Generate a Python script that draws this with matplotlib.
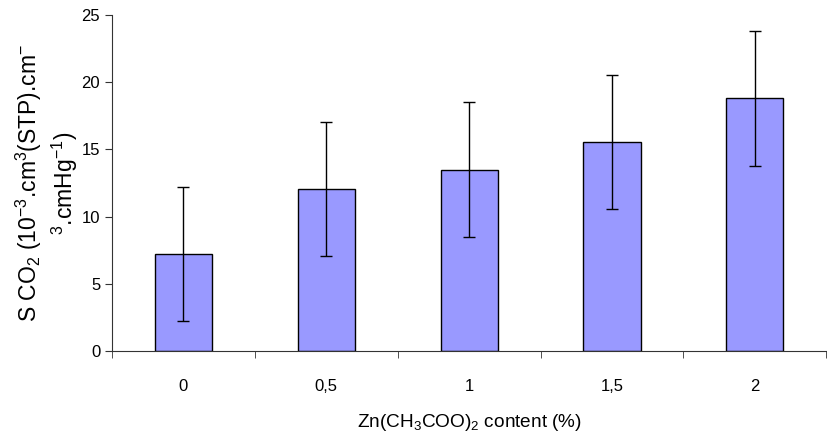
import matplotlib

matplotlib.use("Agg")
import matplotlib.pyplot as plt
from matplotlib.ticker import FixedLocator, NullFormatter

plt.rcParams["font.family"] = ["Liberation Sans", "DejaVu Sans"]
plt.rcParams["mathtext.fontset"] = "custom"
plt.rcParams["mathtext.rm"] = "Liberation Sans"
plt.rcParams["mathtext.it"] = "Liberation Sans:italic"
plt.rcParams["mathtext.bf"] = "Liberation Sans:bold"

categories = ["0", "0,5", "1", "1,5", "2"]
values = [7.2, 12.05, 13.5, 15.55, 18.8]
errors = [5, 5, 5, 5, 5]

fig = plt.figure(figsize=(8.28, 4.45), dpi=100)
ax = fig.add_axes([0.1353, 0.2112, 0.8627, 0.7551])

pos = list(range(len(categories)))
ax.bar(pos, values, width=0.4, color="#9999FF", edgecolor="black", linewidth=1)
ax.errorbar(pos, values, yerr=errors, fmt="none", ecolor="black", elinewidth=1,
            capsize=4.5, capthick=1)

ax.set_xlim(-0.5, len(categories) - 0.5)
ax.set_ylim(0, 25)
ax.set_yticks([0, 5, 10, 15, 20, 25])
ax.set_xticks(pos)
ax.set_xticklabels(categories)
ax.xaxis.set_minor_locator(FixedLocator([p - 0.5 for p in range(len(categories) + 1)]))
ax.xaxis.set_minor_formatter(NullFormatter())
ax.tick_params(axis="x", which="major", length=0, pad=20, labelsize=12)
ax.tick_params(axis="x", which="minor", length=5, color="#333333")
ax.tick_params(axis="y", length=5, color="#333333", labelsize=12)

for s in ["top", "right"]:
    ax.spines[s].set_visible(False)
for s in ["left", "bottom"]:
    ax.spines[s].set_color("#333333")

ax.set_xlabel(r"Zn(CH$_3$COO)$_2$ content (%)", fontsize=13.7, labelpad=13)
ax.set_ylabel("S CO$_2$ (10$^{-3}$.cm$^3$(STP).cm$^{-}$\n$^3$.cmHg$^{-1}$)",
              fontsize=16.5, linespacing=1.25, multialignment="center", labelpad=1)

fig.savefig("out.png", dpi=100)
